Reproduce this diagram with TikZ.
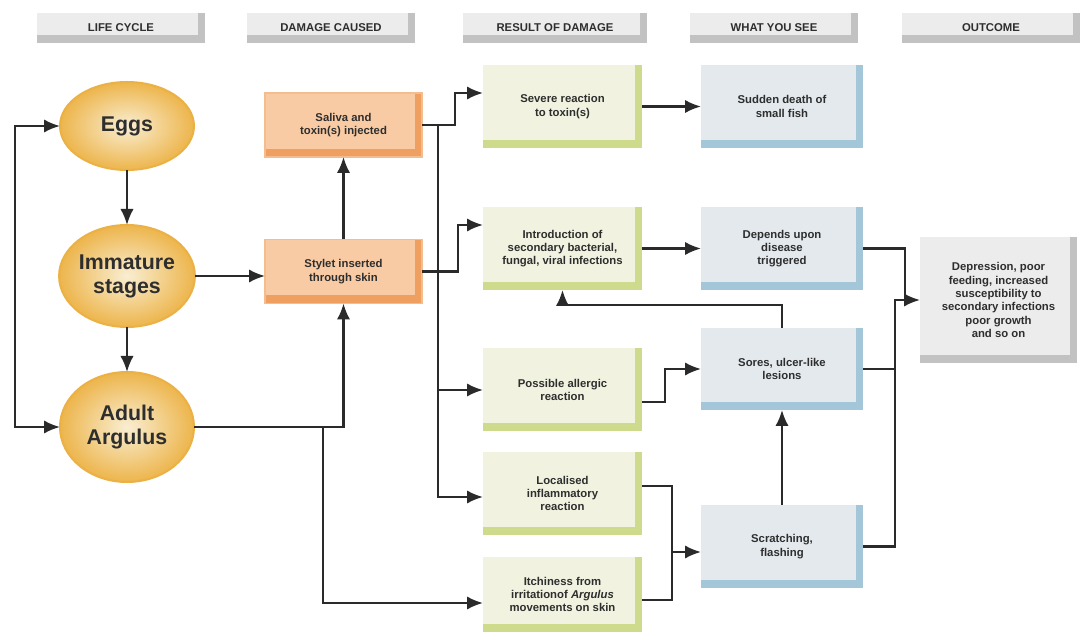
\documentclass[tikz,border=0pt]{standalone}
\usepackage{fontspec}
\setmainfont{Liberation Sans}
\usetikzlibrary{arrows.meta,shapes.geometric}
\definecolor{txt}{HTML}{2E2E2E}
\definecolor{ln}{HTML}{2A2A2A}
\definecolor{eggin}{HTML}{F9EED2}
\definecolor{eggout}{HTML}{EDB54C}
\definecolor{eggedge}{HTML}{EBB145}
\definecolor{dmgfill}{HTML}{F8CBA4}
\definecolor{dmgedge}{HTML}{EFA060}
\definecolor{resfill}{HTML}{F1F3E0}
\definecolor{resedge}{HTML}{CFDB8C}
\definecolor{seefill}{HTML}{E3E9ED}
\definecolor{seeedge}{HTML}{A3C6D8}
\definecolor{grayfill}{HTML}{ECECEC}
\definecolor{grayedge}{HTML}{C2C2C2}
\tikzset{
  bevel/.style={path picture={
    \fill[#1] ([xshift=-5pt]path picture bounding box.north east) rectangle (path picture bounding box.south east);
    \fill[#1] (path picture bounding box.south west) rectangle ([yshift=6pt]path picture bounding box.south east);
  }},
  basebox/.style={rectangle, inner sep=0pt, outer sep=0pt, align=center, text=txt,
    font=\fontsize{8.5}{10}\selectfont\bfseries},
  hdr/.style={basebox, fill=grayfill, bevel=grayedge, minimum height=22.5pt,
    font=\fontsize{8.5}{10}\selectfont\bfseries},
  dmg/.style={basebox, fill=dmgfill, draw=dmgedge!70, line width=0.8pt, bevel=dmgedge,
    minimum width=117.75pt, minimum height=48pt},
  res/.style={basebox, fill=resfill, bevel=resedge, minimum width=119.25pt, minimum height=62.25pt},
  see/.style={basebox, fill=seefill, bevel=seeedge, minimum width=121.5pt, minimum height=62.25pt},
  outc/.style={basebox, fill=grayfill, bevel=grayedge, minimum width=117.75pt, minimum height=94.5pt},
  egg/.style={ellipse, inner sep=0pt, outer sep=0pt, shade, inner color=eggin, outer color=eggout,
    draw=eggedge, line width=1.5pt, minimum width=100.5pt, align=center, text=txt,
    font=\fontsize{16}{18}\selectfont\bfseries},
  tip/.tip={Latex[length=12pt,width=10pt]},
  arr/.style={draw=ln, line width=1.7pt, -tip},
  lne/.style={draw=ln, line width=1.7pt},
}
\begin{document}
\begin{tikzpicture}[x=0.75pt,y=-0.75pt]
\useasboundingbox[fill=white] (0,0) rectangle (1082,634);

% headers
\node[hdr, minimum width=126pt] (hLife) at (121,28) {LIFE CYCLE};
\node[hdr, minimum width=126pt] (hDamage) at (331,28) {DAMAGE CAUSED};
\node[hdr, minimum width=138pt] (hResult) at (555,28) {RESULT OF DAMAGE};
\node[hdr, minimum width=126pt] (hSee) at (774,28) {WHAT YOU SEE};
\node[hdr, minimum width=133.5pt] (hOut) at (991,28) {OUTCOME};

% life cycle
\node[egg, minimum height=66pt] (eggs) at (127,126) {Eggs};
\node[egg, minimum height=76.5pt] (imm) at (127,276) {Immature\\stages};
\node[egg, minimum height=82.5pt] (adult) at (127,427) {Adult\\Argulus};

% damage
\node[dmg] (saliva) at (343.5,125) {Saliva and\\toxin(s) injected};
\node[dmg] (stylet) at (343.5,271.5) {Stylet inserted\\through skin};

% result
\node[res] (severe) at (562.5,106.5) {Severe reaction\\to toxin(s)};
\node[res] (intro) at (562.5,248.5) {Introduction of\\secondary bacterial,\\fungal, viral infections};
\node[res] (allergic) at (562.5,390) {Possible allergic\\reaction};
\node[res] (localised) at (562.5,493.5) {Localised\\inflammatory\\reaction};
\node[res, minimum height=56.25pt] (itch) at (562.5,594.5) {Itchiness from\\irritationof \textit{Argulus}\\movements on skin};

% what you see
\node[see] (sudden) at (782,106.5) {Sudden death of\\small fish};
\node[see] (depends) at (782,248.5) {Depends upon\\disease\\triggered};
\node[see, minimum height=61.5pt] (sores) at (782,369) {Sores, ulcer-like\\lesions};
\node[see] (scratch) at (782,546.5) {Scratching,\\flashing};

% outcome
\node[outc] (outcome) at (998.5,300) {Depression, poor\\feeding, increased\\susceptibility to\\secondary infections\\poor growth\\and so on};

% helper coordinates
\coordinate (lx) at (15,0);
\coordinate (jA) at (323,0);
\coordinate (bus) at (438,0);
\coordinate (jS) at (455,0);
\coordinate (jT) at (458,0);
\coordinate (jL) at (665,0);
\coordinate (jM) at (672,0);
\coordinate (jO) at (895,0);
\coordinate (jP) at (905,0);
\coordinate (y93) at (0,93);
\coordinate (y225) at (0,225);
\coordinate (y305) at (0,305);
\coordinate (y390) at (0,390);
\coordinate (y402) at (0,402);
\coordinate (y486) at (0,486);
\coordinate (y497) at (0,497);
\coordinate (y552) at (0,552);
\coordinate (y600) at (0,600);
\coordinate (y603) at (0,603);

% life cycle connectors
\draw[lne, tip-tip]
  (adult.west) -- (lx |- adult.west) -- (lx |- eggs.west) -- (eggs.west);
\draw[arr] (eggs) -- (imm);
\draw[arr] (imm) -- (adult);
\draw[arr] (imm.east) -- (imm.east -| stylet.west);
\draw[arr] (adult.east) -| (stylet.south);
\draw[arr] (jA |- adult.east) |- (itch.west |- y603);
\draw[arr] (stylet.north) -- (saliva.south);

% damage to result
\draw[arr] (saliva.east) -- (saliva.east -| jS) |- (severe.west |- y93);
\draw[arr] (saliva.east -| bus) |- (localised.west |- y497);
\draw[arr] (bus |- y390) -- (allergic.west |- y390);
\draw[arr] (stylet.east) -- (stylet.east -| jT) |- (intro.west |- y225);

% result to what you see
\draw[arr] (severe.east) -- (sudden.west);
\draw[arr] (intro.east) -- (depends.west);
\draw[arr] (allergic.east |- y402) -| (jL |- sores.west) -- (sores.west);
\draw[lne] (localised.east |- y486) -| (jM |- y600) -- (itch.east |- y600);
\draw[arr] (jM |- y552) -- (scratch.west |- y552);
\draw[arr] (scratch.north) -- (sores.south);
\draw[arr] (sores.north) -- (sores.north |- y305) -| (intro.south);

% to outcome
\draw[arr] (depends.east) -| (jP |- outcome.west) -- (outcome.west);
\draw[lne] (sores.east) -| (jO |- outcome.west);
\draw[lne] (scratch.east) -| (jO |- outcome.west) -- (jP |- outcome.west);
\end{tikzpicture}
\end{document}
